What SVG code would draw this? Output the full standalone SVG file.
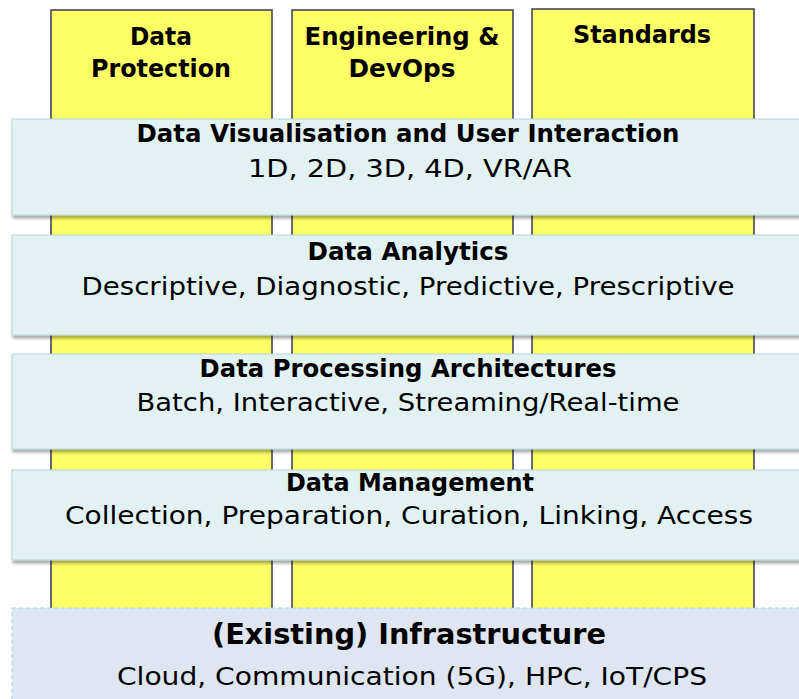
<svg xmlns="http://www.w3.org/2000/svg" width="799" height="699" viewBox="0 0 799 699">
<defs>
<filter id="sh" x="-5%" y="-20%" width="110%" height="150%">
<feGaussianBlur in="SourceAlpha" stdDeviation="1.5"/>
<feOffset dx="1" dy="3" result="b"/>
<feComponentTransfer><feFuncA type="linear" slope="0.35"/></feComponentTransfer>
<feMerge><feMergeNode/><feMergeNode in="SourceGraphic"/></feMerge>
</filter>
</defs>
<style>
.col{fill:#ffff66;stroke:#3a3a55;stroke-width:1.5}
.band{fill:#e2f2f3;stroke:#b4d6d8;stroke-width:1;filter:url(#sh)}
.infra{fill:#dfe6f1;stroke:#9fd6e0;stroke-width:1;stroke-dasharray:4 3}
text{font-family:"DejaVu Sans","Liberation Sans",sans-serif;fill:#000;text-anchor:middle}
.h{font-weight:bold;font-size:24px}
.r{font-size:24px}
.hi{font-weight:bold;font-size:29px}
</style>
<rect width="799" height="699" fill="#fff"/>
<g id="col-data-protection">
<rect class="col" x="51" y="10" width="221" height="610"/>
<text class="h" x="161" y="45" textLength="62" lengthAdjust="spacingAndGlyphs">Data</text>
<text class="h" x="161" y="77" textLength="140" lengthAdjust="spacingAndGlyphs">Protection</text>
</g>
<g id="col-engineering-devops">
<rect class="col" x="292" y="10" width="221" height="610"/>
<text class="h" x="402" y="45" textLength="195" lengthAdjust="spacingAndGlyphs">Engineering &amp;</text>
<text class="h" x="402" y="77" textLength="107" lengthAdjust="spacingAndGlyphs">DevOps</text>
</g>
<g id="col-standards">
<rect class="col" x="532" y="9" width="222" height="611"/>
<text class="h" x="642" y="43" textLength="138" lengthAdjust="spacingAndGlyphs">Standards</text>
</g>
<g id="band-visualisation">
<rect class="band" x="12" y="119" width="800" height="96"/>
<text class="h" x="408" y="142" textLength="543" lengthAdjust="spacingAndGlyphs">Data Visualisation and User Interaction</text>
<text class="r" x="410" y="177" textLength="324" lengthAdjust="spacingAndGlyphs">1D, 2D, 3D, 4D, VR/AR</text>
</g>
<g id="band-analytics">
<rect class="band" x="12" y="235" width="800" height="100"/>
<text class="h" x="408" y="260" textLength="201" lengthAdjust="spacingAndGlyphs">Data Analytics</text>
<text class="r" x="408" y="295" textLength="653" lengthAdjust="spacingAndGlyphs">Descriptive, Diagnostic, Predictive, Prescriptive</text>
</g>
<g id="band-processing">
<rect class="band" x="12" y="354" width="800" height="95"/>
<text class="h" x="408" y="377" textLength="417" lengthAdjust="spacingAndGlyphs">Data Processing Architectures</text>
<text class="r" x="408" y="411" textLength="543" lengthAdjust="spacingAndGlyphs">Batch, Interactive, Streaming/Real-time</text>
</g>
<g id="band-management">
<rect class="band" x="12" y="470" width="800" height="90"/>
<text class="h" x="410" y="491" textLength="248" lengthAdjust="spacingAndGlyphs">Data Management</text>
<text class="r" x="409" y="524" textLength="688" lengthAdjust="spacingAndGlyphs">Collection, Preparation, Curation, Linking, Access</text>
</g>
<g id="infrastructure">
<rect class="infra" x="12" y="608" width="800" height="100"/>
<text class="hi" x="409" y="644" textLength="394" lengthAdjust="spacingAndGlyphs">(Existing) Infrastructure</text>
<text class="r" x="412" y="685" textLength="590" lengthAdjust="spacingAndGlyphs">Cloud, Communication (5G), HPC, IoT/CPS</text>
</g>
<g id="connectors"></g>
</svg>
